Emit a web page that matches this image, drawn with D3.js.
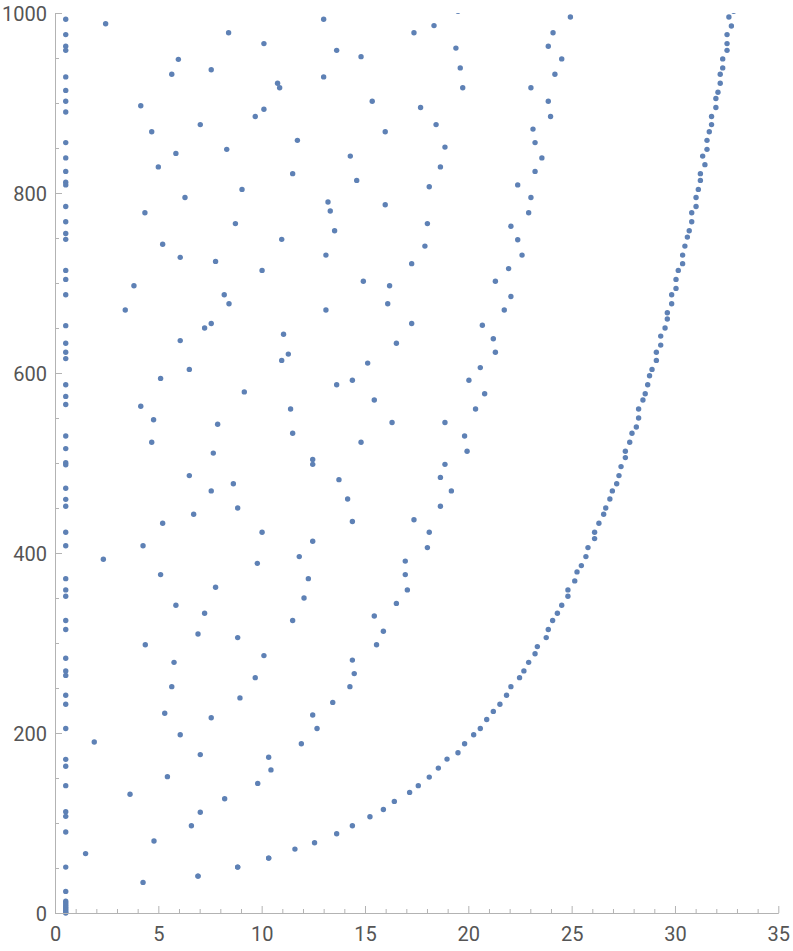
<!DOCTYPE html>
<html>
<head>
<meta charset="utf-8">
<script src="https://cdn.jsdelivr.net/npm/d3@7"></script>
<style>
  body { margin: 0; background: #fff; }
  svg { display: block; }
</style>
</head>
<body>
<svg width="793" height="951"></svg>
<script>
// points stacked on the far left, all at x = 0.52
const columnX = 0.52;
const columnY = [993, 976, 963, 958.5, 929, 914, 902, 890, 856, 839, 824, 812, 809, 785, 768,
  755, 748.5, 714, 704, 687, 652.6, 633, 623, 616, 587, 574, 565, 530, 516,
  500.4, 498, 472, 459.6, 452, 423, 408, 371.5, 359, 352, 325, 315, 283, 269, 264,
  242, 232, 205, 170.7, 163, 141.5, 112.6, 107.4, 90, 51, 24,
  13, 11, 9, 7, 5, 3, 1, 0];

// scattered points in the middle of the plot
const scatter = [
  [2.45,988],[8.40,978],[10.11,966],[5.97,948.5],[7.56,937],[5.65,932],[10.77,922],[10.87,917],
  [4.15,897],[10.11,893],[9.69,885],[7.03,876],[4.68,868],[8.31,848.5],[5.85,844],[5.0,829],
  [11.5,821.5],[9.05,804],[6.29,795],[4.35,778],[8.73,766],
  [13.0,993],[19.5,1002],[18.34,986],[17.37,978],[13.63,958.5],[14.81,951.5],[19.40,961],[19.61,939],
  [13.0,929],[19.73,917],[23.03,917],[15.35,902],[17.69,895],[18.44,876],[15.98,868],[23.13,871],
  [23.23,856],[18.87,851],[11.73,858.5],[14.29,841],[23.56,839],[18.65,829],[23.23,824],[14.6,814],
  [18.11,807],[22.39,809],[13.21,790],[13.32,780],[15.98,787],[23.03,795],[22.92,778],[18.02,766],
  [22.06,763],
  [24.94,995.6],[24.10,978],[23.87,963],[24.52,949],[24.19,932],[23.87,902],[23.98,885],
  [10.97,748.5],[5.21,743],[6.06,728.5],[7.77,724],[10.02,714],[3.82,697],[8.19,687],[8.42,677],
  [3.40,670],[7.56,655],[7.24,650],[11.06,643],[6.06,636],[11.29,621],[10.97,614],[6.5,604],
  [5.11,594],[9.16,579],[4.15,563],[11.40,560],[4.77,548],[7.87,543],[11.5,533],[4.68,523],[7.66,511],
  [13.53,758],[22.39,748],[17.90,741],[13.11,731],[22.60,731],[17.26,721.5],[21.95,716],[14.92,702],
  [16.19,697],[21.31,702],[22.06,685],[16.10,677],[13.11,670],[21.74,670],[17.26,655],[20.68,653],
  [16.52,633],[21.21,638],[21.31,623],[15.13,611],[20.58,606],[14.39,592],[13.63,587],[20.03,592],
  [20.79,577],[15.45,570],[20.35,560],[16.31,545],[18.87,545],[14.81,523],[19.82,530],[19.94,513],
  [12.47,504],
  [6.5,486],[8.63,477],[7.56,469],[8.84,450],[6.71,443],[5.21,433],[10.02,423],[4.26,408],[2.34,393],
  [9.79,388.5],[5.11,376],[7.77,362],[5.85,342],[7.24,333],[11.5,325],[6.92,310],[8.84,306],[4.37,298],
  [10.11,286],[5.76,278.5],[9.69,261.5],[5.65,251.5],
  [12.47,498.5],[18.87,498.5],[13.74,481.5],[18.65,484],[19.18,469],[14.16,460],[18.65,452],[14.39,435],
  [17.37,437],[18.11,423],[12.47,413],[18.02,406],[11.82,396],[16.95,391],[12.26,371.5],[16.95,376],
  [17.05,359],[12.05,350],[16.52,344],[15.45,330],[15.89,313],[15.56,298],[14.39,281],[14.48,266],
  [14.27,251.5],
  [8.95,239],[5.31,222],[7.56,217],[6.06,198],[1.90,190],[7.03,176],[10.34,173],[10.45,159],[5.44,151.5],
  [9.81,144],[3.63,132],[8.21,127],[7.03,112],[6.6,97],[4.79,80],[1.48,66],[8.84,51],[10.34,61],
  [4.26,34],[6.92,41],
  [13.44,234],[12.47,220],[12.68,205],[11.92,188]
];

// the outer curve on the right
const outer = [
  [32.84,1002],[32.61,995.6],[32.73,985.6],[32.52,976],[32.52,966],[32.52,958.5],[32.31,949],[32.31,939],
  [32.19,932],[32.19,922],[32.08,912],[31.98,905],[31.98,895],[31.77,885],[31.77,876],[31.66,868],
  [31.55,858.5],[31.55,848.5],[31.34,841],[31.45,831.5],[31.23,821.5],[31.23,814],[31.13,804],[31.02,795],
  [31.02,785],[30.81,778],[30.81,768],
  [30.69,758],[30.60,751],[30.48,741],[30.37,731],[30.37,721.5],[30.16,714],[30.05,704],[30.05,694],
  [29.84,687],[29.84,677],[29.63,667],[29.63,660],[29.52,650],[29.31,641],[29.31,631],[29.10,623],
  [29.10,614],[28.89,604],[28.77,597],[28.68,587],[28.56,577],[28.45,570],[28.24,560],[28.24,550],
  [28.13,540],[27.92,533],[27.81,523],[27.6,513],[27.6,506],
  [27.39,496],[27.29,486],[27.18,477],[26.97,469],[26.85,460],[26.65,450],[26.55,443],[26.32,433],
  [26.11,423],[26.11,416],[25.79,406],[25.69,396],[25.47,386],[25.26,379],[25.15,369],[24.82,359],
  [24.82,352],[24.52,342],[24.31,333],[24.08,325],[23.87,315],[23.77,306],
  [23.34,296],[23.23,288],[22.92,278.5],[22.69,269],[22.48,261.5],[22.06,251.5],
  [21.85,242],[21.53,232],[21.21,224],[20.89,215],[20.58,205],[20.26,198],[19.82,188],[19.5,178],
  [18.97,171],[18.55,161],[18.11,151],[17.58,141.5],[17.16,134],[16.42,124],[15.89,115],[15.24,107],
  [14.39,97],[13.63,88],[12.56,78],[11.61,71],[10.34,61],[8.84,51],[6.92,41]
];

const xTicks = [0, 5, 10, 15, 20, 25, 30, 35];
const yTicks = [0, 200, 400, 600, 800, 1000];

var svg = d3.select("svg");

var x = d3.scaleLinear().domain([0, 35]).range([55, 778.3]);
var y = d3.scaleLinear().domain([0, 1000]).range([913, 13]);

var axisColor = "#b3b3b3";
var labelColor = "#555";

svg.append("clipPath").attr("id", "plotclip")
  .append("rect")
  .attr("x", 40).attr("y", y(1000))
  .attr("width", 760).attr("height", y(0) - y(1000) + 10);

var allPts = columnY.map(function(v) { return [columnX, v]; })
  .concat(scatter)
  .concat(outer);

svg.append("g")
  .attr("clip-path", "url(#plotclip)")
  .selectAll("circle")
  .data(allPts)
  .enter().append("circle")
  .attr("cx", function(d) { return x(d[0]); })
  .attr("cy", function(d) { return y(d[1]); })
  .attr("r", 2.7)
  .attr("fill", "#5e81b5");

// x axis
var xAxis = d3.axisBottom(x)
  .tickValues(d3.range(0, 36, 1))
  .tickSize(0)
  .tickFormat("");
var gx = svg.append("g").attr("transform", "translate(0," + y(0) + ")").call(xAxis);
gx.select(".domain").attr("stroke", axisColor);
gx.selectAll(".tick line")
  .attr("y2", function(d) { return d % 5 === 0 ? -7 : -4; })
  .attr("stroke", axisColor);
gx.selectAll(".tick")
  .filter(function(d) { return xTicks.indexOf(d) >= 0; })
  .append("text")
  .attr("y", 14)
  .attr("dy", "0.71em")
  .attr("fill", labelColor)
  .attr("text-anchor", "middle")
  .style("font-family", "Roboto, sans-serif")
  .style("font-size", "20px")
  .text(function(d) { return d; });

// y axis
var yAxis = d3.axisLeft(y)
  .tickValues(d3.range(0, 1001, 50))
  .tickSize(0)
  .tickFormat("");
var gy = svg.append("g").attr("transform", "translate(" + x(0) + ",0)").call(yAxis);
gy.select(".domain").attr("stroke", axisColor);
gy.selectAll(".tick line")
  .attr("x2", function(d) { return d % 200 === 0 ? 7 : 4; })
  .attr("stroke", axisColor);
gy.selectAll(".tick")
  .filter(function(d) { return yTicks.indexOf(d) >= 0; })
  .append("text")
  .attr("x", -8)
  .attr("dy", "0.35em")
  .attr("fill", labelColor)
  .attr("text-anchor", "end")
  .style("font-family", "Roboto, sans-serif")
  .style("font-size", "20px")
  .text(function(d) { return d; });
</script>
</body>
</html>
